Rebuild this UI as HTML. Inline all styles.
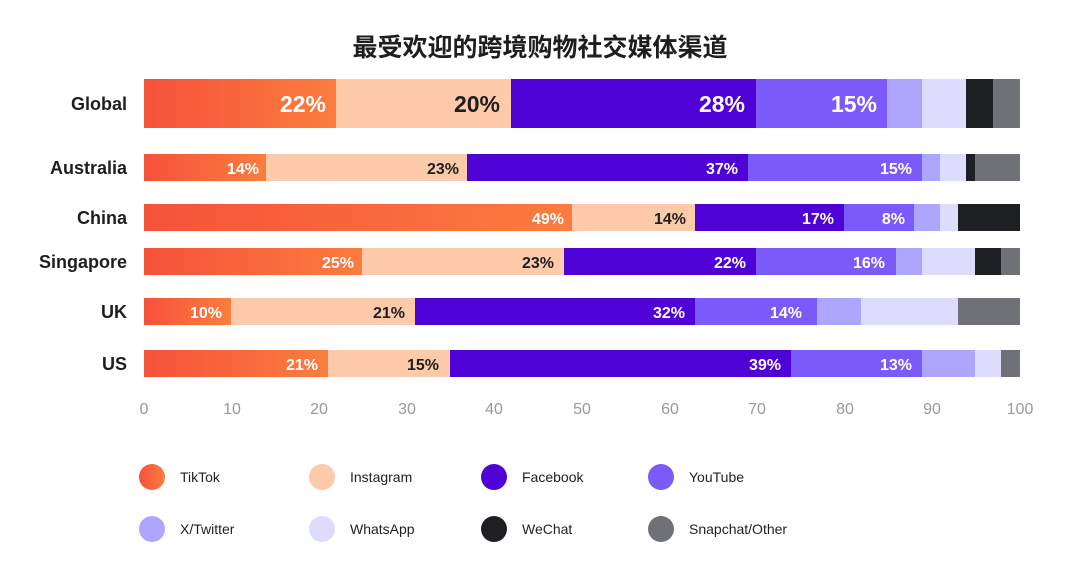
<!DOCTYPE html>
<html><head><meta charset="utf-8"><style>
body{margin:0;background:#fff;width:1080px;height:557px;overflow:hidden}
text{font-family:"Liberation Sans","Noto Sans CJK SC",sans-serif}
</style></head><body>
<svg width="1080" height="557" xmlns="http://www.w3.org/2000/svg">
<defs><linearGradient id="tk" x1="0" x2="1"><stop offset="0" stop-color="#f5523a"/><stop offset="1" stop-color="#fb7d3e"/></linearGradient></defs>
<text x="540" y="56" text-anchor="middle" font-size="25" font-weight="bold" fill="#1e1e1e">最受欢迎的跨境购物社交媒体渠道</text>
<g font-weight="bold" font-size="18" fill="#1e1e1e" text-anchor="end">
<text x="127" y="110">Global</text><text x="127" y="174">Australia</text><text x="127" y="224">China</text><text x="127" y="268">Singapore</text><text x="127" y="318">UK</text><text x="127" y="370">US</text>
</g>
<!-- Global -->
<g>
<rect x="144" y="79" width="192" height="49" fill="url(#tk)"/><rect x="336" y="79" width="175" height="49" fill="#fdcba9"/><rect x="511" y="79" width="245" height="49" fill="#4f02d6"/><rect x="756" y="79" width="131" height="49" fill="#7a5af8"/><rect x="887" y="79" width="35" height="49" fill="#aea6fc"/><rect x="922" y="79" width="44" height="49" fill="#dedcfc"/><rect x="966" y="79" width="27" height="49" fill="#1e1f22"/><rect x="993" y="79" width="27" height="49" fill="#6f7177"/>
<g font-size="23" font-weight="bold" text-anchor="end"><text x="326" y="112" fill="#fff">22%</text><text x="500" y="112" fill="#1e1e1e">20%</text><text x="745" y="112" fill="#fff">28%</text><text x="877" y="112" fill="#fff">15%</text></g>
</g>
<!-- Australia -->
<rect x="144" y="154" width="122" height="27" fill="url(#tk)"/><rect x="266" y="154" width="201" height="27" fill="#fdcba9"/><rect x="467" y="154" width="281" height="27" fill="#4f02d6"/><rect x="748" y="154" width="174" height="27" fill="#7a5af8"/><rect x="922" y="154" width="18" height="27" fill="#aea6fc"/><rect x="940" y="154" width="26" height="27" fill="#dedcfc"/><rect x="966" y="154" width="9" height="27" fill="#1e1f22"/><rect x="975" y="154" width="45" height="27" fill="#6f7177"/>
<!-- China -->
<rect x="144" y="204" width="428" height="27" fill="url(#tk)"/><rect x="572" y="204" width="123" height="27" fill="#fdcba9"/><rect x="695" y="204" width="149" height="27" fill="#4f02d6"/><rect x="844" y="204" width="70" height="27" fill="#7a5af8"/><rect x="914" y="204" width="26" height="27" fill="#aea6fc"/><rect x="940" y="204" width="18" height="27" fill="#dedcfc"/><rect x="958" y="204" width="62" height="27" fill="#1e1f22"/>
<!-- Singapore -->
<rect x="144" y="248" width="218" height="27" fill="url(#tk)"/><rect x="362" y="248" width="202" height="27" fill="#fdcba9"/><rect x="564" y="248" width="192" height="27" fill="#4f02d6"/><rect x="756" y="248" width="140" height="27" fill="#7a5af8"/><rect x="896" y="248" width="26" height="27" fill="#aea6fc"/><rect x="922" y="248" width="53" height="27" fill="#dedcfc"/><rect x="975" y="248" width="26" height="27" fill="#1e1f22"/><rect x="1001" y="248" width="19" height="27" fill="#6f7177"/>
<!-- UK -->
<rect x="144" y="298" width="87" height="27" fill="url(#tk)"/><rect x="231" y="298" width="184" height="27" fill="#fdcba9"/><rect x="415" y="298" width="280" height="27" fill="#4f02d6"/><rect x="695" y="298" width="122" height="27" fill="#7a5af8"/><rect x="817" y="298" width="44" height="27" fill="#aea6fc"/><rect x="861" y="298" width="97" height="27" fill="#dedcfc"/><rect x="958" y="298" width="62" height="27" fill="#6f7177"/>
<!-- US -->
<rect x="144" y="350" width="184" height="27" fill="url(#tk)"/><rect x="328" y="350" width="122" height="27" fill="#fdcba9"/><rect x="450" y="350" width="341" height="27" fill="#4f02d6"/><rect x="791" y="350" width="131" height="27" fill="#7a5af8"/><rect x="922" y="350" width="53" height="27" fill="#aea6fc"/><rect x="975" y="350" width="26" height="27" fill="#dedcfc"/><rect x="1001" y="350" width="19" height="27" fill="#6f7177"/>
<g font-size="16" font-weight="bold" text-anchor="end">
<text x="259" y="174" fill="#fff">14%</text><text x="459" y="174" fill="#1e1e1e">23%</text><text x="738" y="174" fill="#fff">37%</text><text x="912" y="174" fill="#fff">15%</text>
<text x="564" y="224" fill="#fff">49%</text><text x="686" y="224" fill="#1e1e1e">14%</text><text x="834" y="224" fill="#fff">17%</text><text x="905" y="224" fill="#fff">8%</text>
<text x="354" y="268" fill="#fff">25%</text><text x="554" y="268" fill="#1e1e1e">23%</text><text x="746" y="268" fill="#fff">22%</text><text x="885" y="268" fill="#fff">16%</text>
<text x="222" y="318" fill="#fff">10%</text><text x="405" y="318" fill="#1e1e1e">21%</text><text x="685" y="318" fill="#fff">32%</text><text x="802" y="318" fill="#fff">14%</text>
<text x="318" y="370" fill="#fff">21%</text><text x="439" y="370" fill="#1e1e1e">15%</text><text x="781" y="370" fill="#fff">39%</text><text x="912" y="370" fill="#fff">13%</text>
</g>
<g font-size="16" fill="#999" text-anchor="middle">
<text x="144" y="414">0</text><text x="232" y="414">10</text><text x="319" y="414">20</text><text x="407" y="414">30</text><text x="494" y="414">40</text><text x="582" y="414">50</text><text x="670" y="414">60</text><text x="757" y="414">70</text><text x="845" y="414">80</text><text x="932" y="414">90</text><text x="1020" y="414">100</text>
</g>
<g font-size="14" fill="#222">
<circle cx="152" cy="477" r="13" fill="url(#tk)"/><text x="180" y="482">TikTok</text>
<circle cx="322" cy="477" r="13" fill="#fdcba9"/><text x="350" y="482">Instagram</text>
<circle cx="494" cy="477" r="13" fill="#4f02d6"/><text x="522" y="482">Facebook</text>
<circle cx="661" cy="477" r="13" fill="#7a5af8"/><text x="689" y="482">YouTube</text>
<circle cx="152" cy="529" r="13" fill="#aea6fc"/><text x="180" y="534">X/Twitter</text>
<circle cx="322" cy="529" r="13" fill="#dedcfc"/><text x="350" y="534">WhatsApp</text>
<circle cx="494" cy="529" r="13" fill="#1e1f22"/><text x="522" y="534">WeChat</text>
<circle cx="661" cy="529" r="13" fill="#6f7177"/><text x="689" y="534">Snapchat/Other</text>
</g>
</svg>
</body></html>
